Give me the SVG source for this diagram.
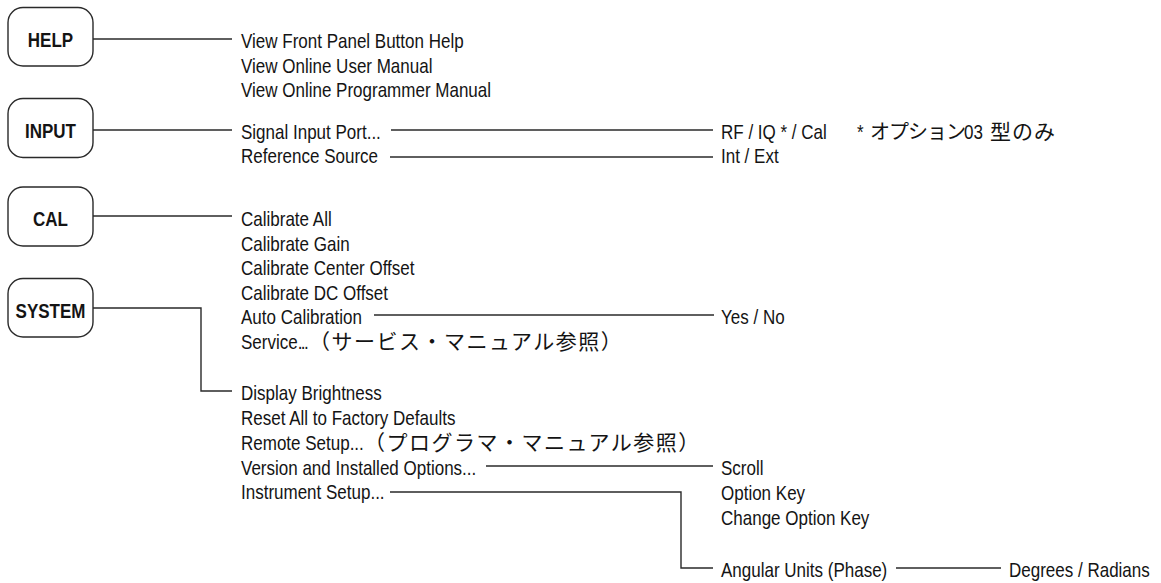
<svg xmlns="http://www.w3.org/2000/svg" width="1161" height="583" viewBox="0 0 1161 583">
<style>
.bg{fill:#ffffff}
.btn{fill:#ffffff;stroke:#2a2a2a;stroke-width:1.4}
.bl{font-family:"Liberation Sans",Arial,sans-serif;font-size:21px;font-weight:bold;fill:#141414;text-anchor:middle}
.t{font-family:"Liberation Sans",Arial,sans-serif;font-size:21px;fill:#141414}
.j{font-family:"Noto Sans CJK JP","Noto Sans CJK SC",sans-serif;font-size:21px;fill:#141414;letter-spacing:1.5px}
.c{fill:none;stroke:#2a2a2a;stroke-width:1.4}
</style>
<rect class="bg" x="0" y="0" width="1161" height="583"/>

<g id="help">
<rect class="btn" x="8" y="7.5" width="85" height="58.5" rx="15"/>
<text class="bl" transform="translate(50.5,46.5) scale(0.81,1)">HELP</text>
</g>
<g id="input">
<rect class="btn" x="8" y="98.5" width="85" height="59" rx="15"/>
<text class="bl" transform="translate(50.5,138) scale(0.81,1)">INPUT</text>
</g>
<g id="cal">
<rect class="btn" x="8" y="187" width="85" height="59" rx="15"/>
<text class="bl" transform="translate(50.5,226) scale(0.81,1)">CAL</text>
</g>
<g id="system">
<rect class="btn" x="8" y="278.5" width="85" height="58.5" rx="15"/>
<text class="bl" transform="translate(50.5,318) scale(0.81,1)">SYSTEM</text>
</g>

<g id="connectors">
<path class="c" d="M93 39H232"/>
<path class="c" d="M93 130H232"/>
<path class="c" d="M93 216H232"/>
<path class="c" d="M93 308H201V391H232"/>
<path class="c" d="M391 130H713"/>
<path class="c" d="M390 157H713"/>
<path class="c" d="M374 315H714"/>
<path class="c" d="M486 466H713"/>
<path class="c" d="M390 492H681V568H713"/>
<path class="c" d="M896 568H1001"/>
</g>

<g id="help-items">
<text class="t" transform="translate(241,48) scale(0.81,1)">View Front Panel Button Help</text>
<text class="t" transform="translate(241,72.5) scale(0.81,1)">View Online User Manual</text>
<text class="t" transform="translate(241,97) scale(0.81,1)">View Online Programmer Manual</text>
</g>

<g id="input-items">
<text class="t" transform="translate(241,139) scale(0.81,1)">Signal Input Port...</text>
<text class="t" transform="translate(241,163) scale(0.81,1)">Reference Source</text>
</g>

<g id="input-options">
<text class="t" transform="translate(721,139) scale(0.81,1)">RF / IQ * / Cal</text>
<text class="t" transform="translate(857,139) scale(0.81,1)">*</text>
<text class="j" x="870" y="139" style="font-size:20px;letter-spacing:-1px">オプション</text>
<text class="t" transform="translate(964,139) scale(0.81,1)">03</text>
<text class="j" x="990" y="139" style="letter-spacing:1px">型のみ</text>
<text class="t" transform="translate(721,163) scale(0.81,1)">Int / Ext</text>
</g>

<g id="cal-items">
<text class="t" transform="translate(241,226) scale(0.81,1)">Calibrate All</text>
<text class="t" transform="translate(241,250.5) scale(0.81,1)">Calibrate Gain</text>
<text class="t" transform="translate(241,275) scale(0.81,1)">Calibrate Center Offset</text>
<text class="t" transform="translate(241,299.5) scale(0.81,1)">Calibrate DC Offset</text>
<text class="t" transform="translate(241,324) scale(0.81,1)">Auto Calibration</text>
<text class="t" transform="translate(241,348.5) scale(0.81,1)">Service<tspan style="letter-spacing:-2px">..</tspan>.</text>
<text class="j" x="309" y="348.5">（サービス・マニュアル参照）</text>
<text class="t" transform="translate(721,324) scale(0.81,1)">Yes / No</text>
</g>

<g id="system-items">
<text class="t" transform="translate(241,400) scale(0.81,1)">Display Brightness</text>
<text class="t" transform="translate(241,425) scale(0.81,1)">Reset All to Factory Defaults</text>
<text class="t" transform="translate(241,449.5) scale(0.81,1)">Remote Setup...</text>
<text class="j" x="364" y="449.5">（プログラマ・マニュアル参照）</text>
<text class="t" transform="translate(241,474.5) scale(0.81,1)">Version and Installed Options...</text>
<text class="t" transform="translate(241,499) scale(0.81,1)">Instrument Setup...</text>
</g>

<g id="version-items">
<text class="t" transform="translate(721,475) scale(0.81,1)">Scroll</text>
<text class="t" transform="translate(721,500) scale(0.81,1)">Option Key</text>
<text class="t" transform="translate(721,524.5) scale(0.81,1)">Change Option Key</text>
</g>

<g id="instrument-items">
<text class="t" transform="translate(721,577) scale(0.81,1)">Angular Units (Phase)</text>
<text class="t" transform="translate(1009,577) scale(0.81,1)">Degrees / Radians</text>
</g>
</svg>
